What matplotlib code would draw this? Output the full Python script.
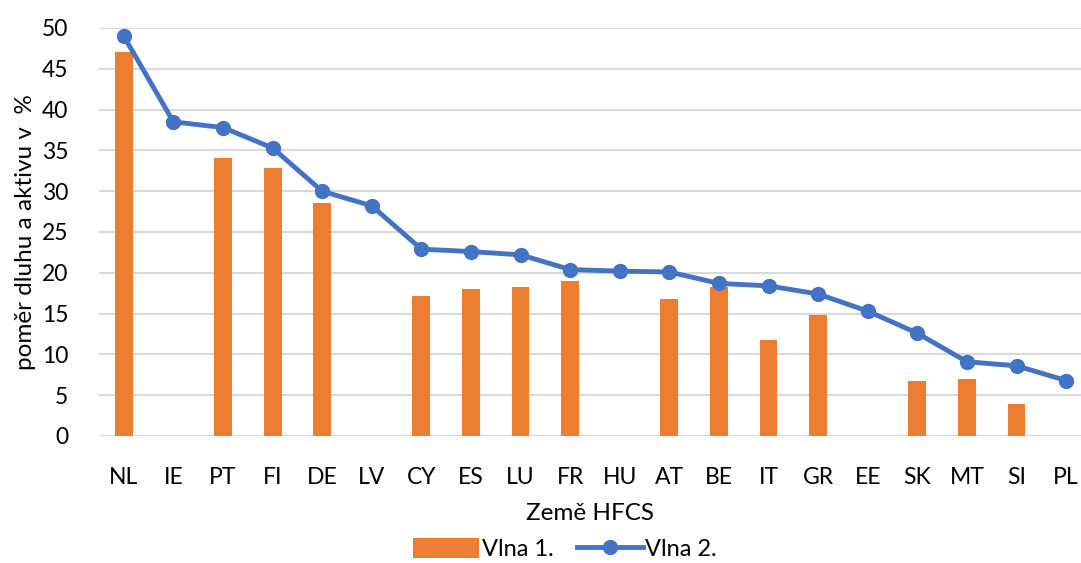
import numpy as np
import matplotlib.pyplot as plt

plt.rcParams['font.family'] = ['Lato', 'DejaVu Sans']

countries = ['NL', 'IE', 'PT', 'FI', 'DE', 'LV', 'CY', 'ES', 'LU', 'FR',
             'HU', 'AT', 'BE', 'IT', 'GR', 'EE', 'SK', 'MT', 'SI', 'PL']
# wave 1 (missing countries as NaN)
wave1 = [47.1, np.nan, 34.1, 32.9, 28.5, np.nan, 17.1, 18.0, 18.3, 19.0,
         np.nan, 16.8, 18.3, 11.8, 14.8, np.nan, 6.7, 7.0, 3.9, np.nan]
# wave 2
wave2 = [49.0, 38.5, 37.8, 35.3, 30.0, 28.2, 22.9, 22.6, 22.2, 20.4,
         20.2, 20.1, 18.7, 18.4, 17.4, 15.3, 12.6, 9.1, 8.6, 6.8]

ORANGE = '#ED7D31'
BLUE = '#4472C4'

fig = plt.figure(figsize=(10.81, 5.63), dpi=100)
ax = fig.add_axes([99 / 1081, 1 - 436 / 563, 1 - 99 / 1081, (436 - 28) / 563])

x = np.arange(len(countries))
bars = ax.bar(x, wave1, width=0.36, color=ORANGE, label='Vlna 1.', zorder=2)
line, = ax.plot(x, wave2, color=BLUE, lw=3.5, marker='o', markersize=10,
                label='Vlna 2.', zorder=3)

ax.set_ylim(0, 50)
ax.set_yticks(range(0, 51, 5))
ax.set_xlim(-0.5, 19.3)
ax.set_xticks(x)
ax.set_xticklabels(countries)
ax.grid(axis='y', color='#D9D9D9', lw=1.5, zorder=0)
ax.set_axisbelow(True)
for s in ax.spines.values():
    s.set_visible(False)
ax.tick_params(axis='both', length=0, labelsize=16.5)
ax.tick_params(axis='x', pad=22)
ax.tick_params(axis='y', pad=22)

ax.set_ylabel('poměr dluhu a aktivu v  %', fontsize=17.5, labelpad=4)
ax.set_xlabel('Země HFCS', fontsize=17.5, labelpad=11)

fig.legend([bars, line], ['Vlna 1.', 'Vlna 2.'], loc='center',
           bbox_to_anchor=(565 / 1081, 1 - 549 / 563), ncol=2,
           frameon=False, fontsize=17, handlelength=2.8, handleheight=0.9,
           columnspacing=1.0, handletextpad=0.1)

fig.savefig('out.png', dpi=100)
